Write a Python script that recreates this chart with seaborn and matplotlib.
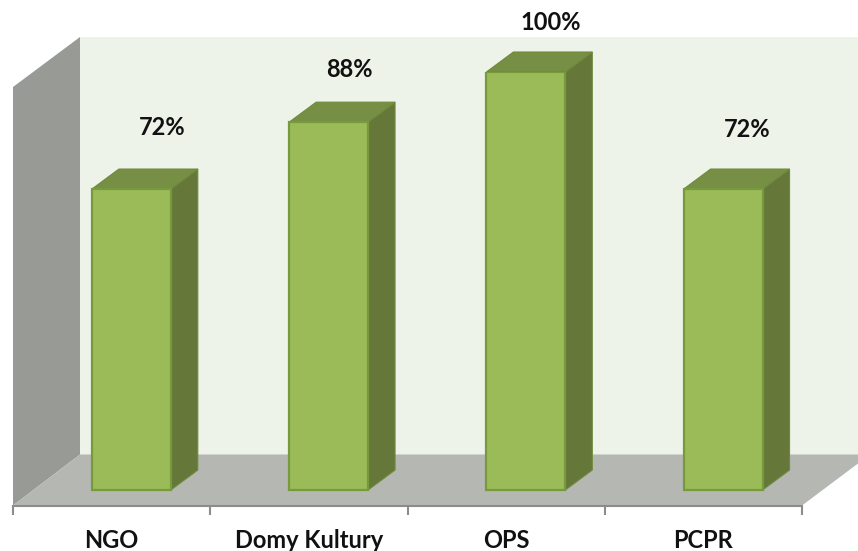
import matplotlib; matplotlib.use('Agg')
import numpy as np
import seaborn as sns
import matplotlib.pyplot as plt
from matplotlib.patches import Polygon
from matplotlib.transforms import IdentityTransform

categories = ['NGO', 'Domy Kultury', 'OPS', 'PCPR']
values = [72, 88, 100, 72]
value_labels = ['72%', '88%', '100%', '72%']
# labels float above the bars by uneven amounts in the original (pixels)
label_dx = [31, 21, 25, 24]
label_dy = [61, 52, 48, 59]

W, H = 858, 551
sns.set_theme(style='white')
plt.rcParams['font.family'] = ['Lato', 'DejaVu Sans']

fig = plt.figure(figsize=(W / 100, H / 100), dpi=100)
ax = fig.add_axes([13 / W, (H - 505.5) / H, 789 / W, 433.5 / H])
ax.patch.set_alpha(0)

sns.barplot(x=categories, y=values, width=0.4, color='#9BBB59', saturation=1,
            edgecolor='#769A3C', linewidth=1.6, ax=ax, zorder=5)
ax.set_xlim(-0.5, 3.5)
ax.set_ylim(-3.7, 100)


def add_face(points, color, zorder, edge='none'):
    # points are in image pixels, y going down
    pts = [(x, H - y) for x, y in points]
    ax.add_patch(Polygon(pts, closed=True, facecolor=color, edgecolor=edge, linewidth=0.8,
                         transform=IdentityTransform(), clip_on=False, zorder=zorder))


# walls and floor
x0, x1 = 13, 802
y_base = 505.5
wall_dx, wall_dy = 67, 51
add_face([(x0 + wall_dx, 37), (W, 37), (W, y_base - wall_dy), (x0 + wall_dx, y_base - wall_dy)], '#EEF3EA', 1)
add_face([(x0, 87), (x0 + wall_dx, 37), (x0 + wall_dx, y_base - wall_dy), (x0, y_base)], '#989A95', 2)
add_face([(x0, y_base), (x0 + wall_dx, y_base - wall_dy), (W, y_base - wall_dy),
          (W, y_base - wall_dy + 9), (x1, y_base)], '#B5B7B2', 2)

# side and top of each bar, taken from the bars seaborn drew
depth_x, depth_y = 27, 20
bar_shift = 0.1  # 3D view pushes the columns right of the category centre
for i, bar in enumerate(ax.patches[:len(values)]):
    bar.set_x(bar.get_x() + bar_shift)
    (l, b), (r, t) = ax.transData.transform([(bar.get_x(), bar.get_y()),
                                             (bar.get_x() + bar.get_width(), bar.get_height())])
    l, r, b, t = l, r, H - b, H - t
    add_face([(r, t), (r + depth_x, t - depth_y), (r + depth_x, b - depth_y), (r, b)], '#66773A', 4, '#6F8A3C')
    add_face([(l, t), (l + depth_x, t - depth_y), (r + depth_x, t - depth_y), (r, t)], '#778F45', 4, '#6F8A3C')
    ax.text(l + (r - l) / 2 + label_dx[i], H - (t - label_dy[i] - 1), value_labels[i], ha='center', va='center',
            fontsize=17, fontweight='bold', color='#111111', transform=IdentityTransform(), clip_on=False)

for side in ['top', 'left', 'right']:
    ax.spines[side].set_visible(False)
ax.spines['bottom'].set_color('#8C8C8C')
ax.spines['bottom'].set_linewidth(1.5)
ax.set_yticks([])
ax.set_xticks(range(len(categories)), categories)
ax.set_xticks(np.arange(len(categories) + 1) - 0.5, minor=True)
ax.tick_params(axis='x', which='major', length=0, pad=17, labelsize=17, labelcolor='#111111')
ax.tick_params(axis='x', which='minor', bottom=True, length=6.5, width=1.5, color='#8C8C8C')
for lab in ax.get_xticklabels():
    lab.set_fontweight('bold')
ax.set_xlabel('')
ax.set_ylabel('')

fig.savefig('out.png', dpi=100)
